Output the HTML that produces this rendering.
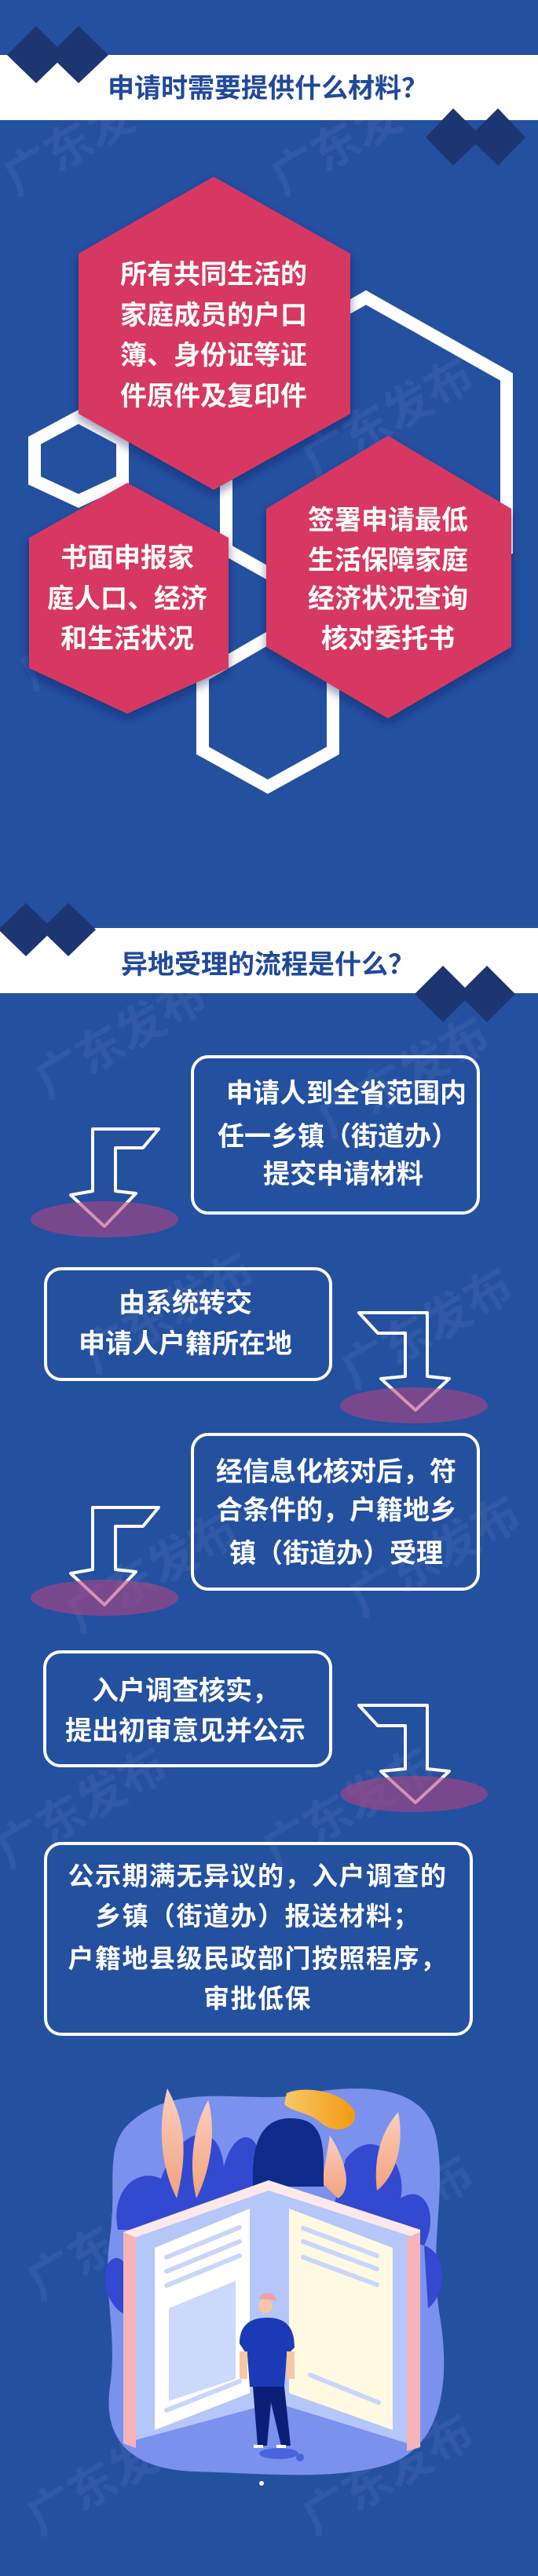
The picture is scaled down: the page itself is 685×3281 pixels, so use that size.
<!DOCTYPE html>
<html><head><meta charset="utf-8">
<style>
html,body{margin:0;padding:0;background:#2450a0;}
svg{display:block;}
text{font-family:"Liberation Sans","Noto Sans CJK SC",sans-serif;font-weight:bold;}
</style></head>
<body>
<svg width="685" height="3281" viewBox="0 0 685 3281" xmlns="http://www.w3.org/2000/svg">
<defs>
<filter id="sh" x="-20%" y="-20%" width="140%" height="140%"><feDropShadow dx="0" dy="6" stdDeviation="6" flood-color="#0a1e55" flood-opacity="0.45"/></filter>
<linearGradient id="hair" x1="0" x2="1"><stop offset="0" stop-color="#f7c86a"/><stop offset="1" stop-color="#f29a10"/></linearGradient>
<linearGradient id="leafp" x1="0" y1="0" x2="0" y2="1"><stop offset="0" stop-color="#f9cfc0"/><stop offset="1" stop-color="#f3a27c"/></linearGradient>
</defs>
<rect width="685" height="3281" fill="#2450a0"/>

<!-- watermarks -->
<g fill="#ffffff" fill-opacity="0.06" font-size="60">
<text x="20" y="250" transform="rotate(-30 20 250)">广东发布</text>
<text x="360" y="250" transform="rotate(-30 360 250)">广东发布</text>
<text x="400" y="610" transform="rotate(-30 400 610)">广东发布</text>
<text x="40" y="880" transform="rotate(-30 40 880)">广东发布</text>
<text x="60" y="1400" transform="rotate(-30 60 1400)">广东发布</text>
<text x="420" y="1450" transform="rotate(-30 420 1450)">广东发布</text>
<text x="120" y="1750" transform="rotate(-30 120 1750)">广东发布</text>
<text x="450" y="1770" transform="rotate(-30 450 1770)">广东发布</text>
<text x="100" y="2080" transform="rotate(-30 100 2080)">广东发布</text>
<text x="460" y="2060" transform="rotate(-30 460 2060)">广东发布</text>
<text x="10" y="2380" transform="rotate(-30 10 2380)">广东发布</text>
<text x="350" y="2380" transform="rotate(-30 350 2380)">广东发布</text>
<text x="50" y="2930" transform="rotate(-30 50 2930)">广东发布</text>
<text x="400" y="2900" transform="rotate(-30 400 2900)">广东发布</text>
<text x="50" y="3230" transform="rotate(-30 50 3230)">广东发布</text>
<text x="400" y="3230" transform="rotate(-30 400 3230)">广东发布</text>
</g>

<!-- Section 1 header -->
<rect x="0" y="70" width="685" height="83" fill="#ffffff"/>
<g fill="#1c3671">
<polygon points="46,33 83,70 46,106 9,70"/>
<polygon points="100,33 138,70 100,106 63,70"/>
<polygon points="577,138 614,175 577,211 542,175"/>
<polygon points="634,138 669,175 634,211 597,175"/>
</g>
<text x="341" y="124" font-size="34" fill="#21499a" text-anchor="middle">申请时需要提供什么材料？</text>

<!-- outline hexes -->
<g fill="none" stroke="#ffffff" stroke-width="16" stroke-linejoin="miter">
<polygon points="466,379 645,480 645,700 466,800 288,700 288,480"/>
<polygon points="100,531 156,561 156,612 100,638 44,612 44,561"/>
<polygon points="341,813 424,861 424,956 341,1002 258,956 258,861"/>
</g>

<!-- pink hexes -->
<g fill="#d63862" filter="url(#sh)">
<polygon points="272,225 446,323 446,527 272,624 100,527 100,323"/>
<polygon points="162,615 291,685 291,851 162,909 37,851 37,685"/>
<polygon points="494,555 651,648 651,824 494,915 339,824 339,648"/>
</g>
<g fill="#ffffff" font-size="34" text-anchor="middle">
<text x="272" y="361">所有共同生活的</text>
<text x="272" y="413">家庭成员的户口</text>
<text x="272" y="464">簿、身份证等证</text>
<text x="272" y="516">件原件及复印件</text>
<text x="162" y="722">书面申报家</text>
<text x="162" y="774">庭人口、经济</text>
<text x="162" y="825">和生活状况</text>
<text x="494" y="674">签署申请最低</text>
<text x="494" y="725">生活保障家庭</text>
<text x="494" y="774">经济状况查询</text>
<text x="494" y="825">核对委托书</text>
</g>

<!-- Section 2 header -->
<rect x="0" y="1182" width="685" height="83" fill="#ffffff"/>
<g fill="#1c3671">
<polygon points="33,1150 68,1184 33,1218 -2,1184"/>
<polygon points="87,1150 122,1184 87,1218 52,1184"/>
<polygon points="564,1230 600,1266 564,1302 528,1266"/>
<polygon points="620,1230 656,1266 620,1302 584,1266"/>
</g>
<text x="341" y="1240" font-size="34" fill="#21499a" text-anchor="middle">异地受理的流程是什么？</text>

<!-- boxes -->
<g fill="none" stroke="#ffffff" stroke-width="4">
<rect x="245" y="1346" width="364" height="199" rx="20"/>
<rect x="58" y="1616" width="363" height="141" rx="20"/>
<rect x="245" y="1827" width="364" height="197" rx="20"/>
<rect x="57" y="2104" width="364" height="145" rx="20"/>
<rect x="58" y="2348" width="542" height="243" rx="20"/>
</g>
<g fill="#ffffff" font-size="34" text-anchor="middle">
<text x="441" y="1404">申请人到全省范围内</text>
<text x="430" y="1459">任一乡镇（街道办）</text>
<text x="437" y="1507">提交申请材料</text>
<text x="236" y="1671">由系统转交</text>
<text x="236" y="1723">申请人户籍所在地</text>
<text x="428" y="1886">经信息化核对后，符</text>
<text x="428" y="1935">合条件的，户籍地乡</text>
<text x="428" y="1990">镇（街道办）受理</text>
<text x="236" y="2165">入户调查核实，</text>
<text x="236" y="2216">提出初审意见并公示</text>
</g>
<g fill="#ffffff" font-size="33" text-anchor="middle">
<text x="328" y="2401" letter-spacing="1.5">公示期满无异议的，入户调查的</text>
<text x="328" y="2452" letter-spacing="1.5">乡镇（街道办）报送材料；</text>
<text x="328" y="2506" letter-spacing="1.5">户籍地县级民政部门按照程序，</text>
<text x="328" y="2557" letter-spacing="1.5">审批低保</text>
</g>

<!-- arrows -->
<g fill="none" stroke="#ffffff" stroke-width="4" stroke-linejoin="round">
<polygon points="118,1438 202,1438 182,1462 147,1462 147,1517 173,1520 133,1562 90,1522 118,1517"/>
<polygon points="457,1672 544,1672 544,1753 572,1756 529,1796 485,1756 516,1753 516,1698 481,1698"/>
<polygon points="118,1920 202,1920 182,1944 147,1944 147,1999 173,2002 133,2044 90,2004 118,1999"/>
<polygon points="457,2172 544,2172 544,2253 572,2256 529,2296 485,2256 516,2253 516,2198 481,2198"/>
</g>
<g fill="#b4457d" fill-opacity="0.58">
<ellipse cx="133" cy="1553" rx="94" ry="23"/>
<ellipse cx="527" cy="1790" rx="94" ry="23"/>
<ellipse cx="133" cy="2035" rx="94" ry="23"/>
<ellipse cx="527" cy="2285" rx="94" ry="23"/>
</g>

<!-- illustration -->
<path d="M170,2700 C230,2650 320,2680 380,2668 C450,2655 540,2650 555,2720 C570,2790 545,2860 560,2950 C575,3040 560,3120 490,3140 C420,3160 330,3150 250,3148 C170,3146 130,3110 140,3040 C150,2970 130,2920 140,2850 C150,2780 130,2730 170,2700 Z" fill="#7b91ee"/>
<g fill="#3349cf">
<path d="M150,2840 C140,2790 175,2760 205,2775 C230,2705 280,2700 285,2760 C300,2700 345,2710 330,2800 L250,2840 Z"/>
<path d="M440,2750 C480,2700 520,2760 510,2800 C540,2780 560,2820 540,2860 L420,2830 Z"/>
<path d="M135,2890 C140,2870 160,2870 165,2900 L165,2950 C145,2945 130,2920 135,2890 Z"/>
<path d="M540,2860 C570,2870 570,2920 545,2940 Z"/>
</g>
<g fill="url(#leafp)">
<path d="M213,2660 C235,2700 240,2740 225,2800 C205,2760 200,2710 213,2660 Z"/>
<path d="M265,2675 C275,2710 270,2760 250,2800 C240,2760 245,2710 265,2675 Z"/>
<path d="M507,2690 C515,2730 505,2770 480,2790 C475,2750 485,2715 507,2690 Z"/>
<path d="M420,2720 C440,2750 450,2790 430,2800 L410,2780 Z"/>
</g>
<path d="M365,2666 C390,2655 440,2665 452,2690 C455,2710 430,2720 410,2705 C395,2690 370,2690 362,2680 Z" fill="url(#hair)"/>
<path d="M322,2770 C322,2712 345,2698 370,2698 C405,2698 412,2720 412,2760 L412,2785 L322,2785 Z" fill="#0f2a8a"/>
<!-- book -->
<polygon points="157,2843 342,2777 535,2840 535,3117 350,3060 157,3112" fill="#b5c6f8"/>
<polygon points="157,2843 342,2777 535,2840 535,2852 342,2790 157,2855" fill="#fce7ea"/>
<polygon points="157,2843 173,2850 173,3118 157,3112" fill="#f5b4b8"/>
<polygon points="518,2850 535,2843 535,3117 518,3122" fill="#f5b4b8"/>
<polygon points="197,2863 318,2813 318,3048 197,3095" fill="#ffffff"/>
<polygon points="368,2813 500,2863 500,3095 368,3048" fill="#fff9e2"/>
<g stroke="#c9d6fa" stroke-width="6" stroke-linecap="round">
<line x1="212" y1="2875" x2="305" y2="2837"/>
<line x1="212" y1="2893" x2="305" y2="2855"/>
<line x1="212" y1="2911" x2="305" y2="2873"/>
<line x1="212" y1="3070" x2="305" y2="3033"/>
<line x1="386" y1="2838" x2="480" y2="2873"/>
<line x1="386" y1="2855" x2="480" y2="2890"/>
<line x1="386" y1="2875" x2="480" y2="2910"/>
<line x1="395" y1="3025" x2="482" y2="3060"/>
</g>
<path d="M215,2940 L300,2905 L300,3030 L215,3058 Z" fill="#cbd9fb"/>
<!-- small person -->
<ellipse cx="355" cy="3125" rx="25" ry="7" fill="#4a64e0"/>
<circle cx="382" cy="3130" r="5" fill="#4a64e0"/>
<circle cx="338" cy="2937" r="9" fill="#f6c7a6"/>
<path d="M330,2928 C332,2918 350,2918 352,2930 Z" fill="#f4a0a0"/>
<path d="M305,2985 C305,2960 320,2952 340,2952 C360,2952 375,2960 375,2990 L365,3000 L362,3040 L318,3040 L315,3000 Z" fill="#1a3bb5"/>
<rect x="305" y="2995" width="10" height="35" fill="#f6c7a6"/>
<rect x="365" y="2995" width="10" height="35" fill="#f6c7a6"/>
<path d="M322,3040 L362,3040 L370,3115 L358,3115 L345,3060 L340,3115 L328,3115 Z" fill="#0b1e78"/>
<rect x="323" y="3114" width="12" height="4" fill="#ffffff"/>
<rect x="352" y="3114" width="12" height="4" fill="#ffffff"/>
<circle cx="333" cy="3163" r="3" fill="#ffffff"/>
</svg>
</body></html>
